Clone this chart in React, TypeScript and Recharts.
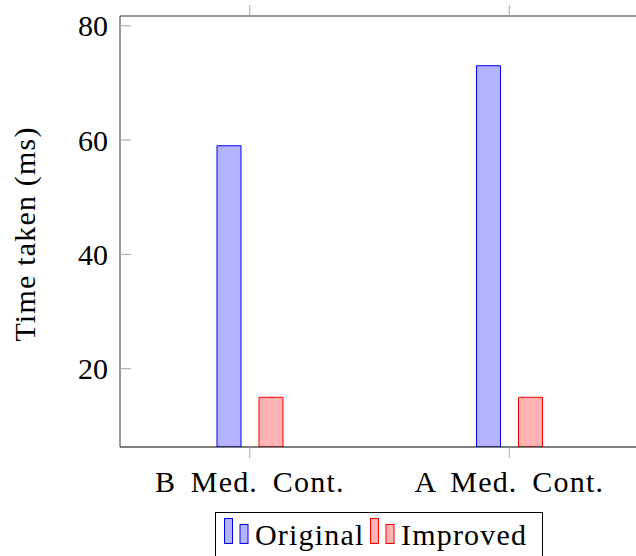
import React from "react";
import { BarChart, Bar, XAxis, YAxis, Label } from "recharts";

// Benchmark categories and measured times (ms)
const categories = ["B Med. Cont.", "A Med. Cont."];
const originalTimes = [59, 73];
const improvedTimes = [15, 15];
const yTicks = [20, 40, 60, 80];
const yDomain: [number, number] = [6.3, 81.7];

const series = [
  { key: "original", name: "Original", fill: "#b3b3ff", stroke: "#0000ff" },
  { key: "improved", name: "Improved", fill: "#ffb3b3", stroke: "#ff0000" },
];

const data = categories.map((name, i) => ({
  name,
  original: originalTimes[i],
  improved: improvedTimes[i],
}));

const FONT = "'Liberation Serif', 'DejaVu Serif', serif";
const TICK_GRAY = "#a6a6a6";

const LeftTick = (props: any) => {
  const { x, y, payload } = props;
  return (
    <g>
      <line x1={x} x2={x + 11} y1={y} y2={y} stroke={TICK_GRAY} strokeWidth={1} />
      <text x={x - 12} y={y} dy="0.35em" textAnchor="end" fontFamily={FONT} fontSize={30} fill="#000">
        {payload.value}
      </text>
    </g>
  );
};

const RightTick = (props: any) => {
  const { x, y } = props;
  return <line x1={x - 11} x2={x} y1={y} y2={y} stroke={TICK_GRAY} strokeWidth={1} />;
};

const BottomTick = (props: any) => {
  const { x, y, payload } = props;
  return (
    <g>
      <line x1={x} x2={x} y1={y} y2={y + 11} stroke={TICK_GRAY} strokeWidth={1} />
      <text
        x={x}
        y={y + 45}
        textAnchor="middle"
        fontFamily={FONT}
        fontSize={30}
        letterSpacing={1.2}
        wordSpacing={6}
        fill="#000"
      >
        {payload.value}
      </text>
    </g>
  );
};

const TopTick = (props: any) => {
  const { x, y } = props;
  return <line x1={x} x2={x} y1={y - 11} y2={y} stroke={TICK_GRAY} strokeWidth={1} />;
};

const YTitle = (props: any) => {
  const { viewBox } = props;
  const cy = viewBox.y + viewBox.height / 2 + 2.5;
  const cx = 35;
  return (
    <text
      x={cx}
      y={cy}
      textAnchor="middle"
      transform={`rotate(-90, ${cx}, ${cy})`}
      fontFamily={FONT}
      fontSize={30}
      letterSpacing={1.2}
      fill="#000"
    >
      Time taken (ms)
    </text>
  );
};

const LegendBox = () => {
  const entryX = [9, 155];
  return (
    <svg width={329} height={44} style={{ position: "absolute", left: 215, top: 512 }}>
      <rect x={0.5} y={0.5} width={327} height={60} fill="#fff" stroke="#000" strokeWidth={1} />
      {series.map((s, i) => (
        <g key={s.key} transform={`translate(${entryX[i]},0)`}>
          <rect x={0.5} y={6.5} width={8} height={25} fill={s.fill} stroke={s.stroke} strokeWidth={1} />
          <rect x={16} y={12.5} width={8} height={19} fill={s.fill} stroke={s.stroke} strokeWidth={1} />
          <text x={31} y={33} fontFamily={FONT} fontSize={30} letterSpacing={1.2} fill="#000">
            {s.name}
          </text>
        </g>
      ))}
    </svg>
  );
};

export default function App() {
  return (
    <div
      style={{
        position: "absolute",
        left: 0,
        top: 0,
        width: 636,
        height: 556,
        overflow: "hidden",
        background: "#fff",
      }}
    >
      <BarChart
        width={640}
        height={556}
        data={data}
        margin={{ top: 0, right: 1, bottom: 0, left: 0 }}
        barSize={24}
        barGap={18}
      >
        <XAxis
          dataKey="name"
          xAxisId="bottom"
          orientation="bottom"
          height={109}
          axisLine={{ stroke: "#000", strokeWidth: 1 }}
          tickLine={false}
          tickSize={0}
          tickMargin={0}
          tick={<BottomTick />}
          interval={0}
        />
        <XAxis
          dataKey="name"
          xAxisId="top"
          orientation="top"
          height={16}
          axisLine={{ stroke: "#333", strokeWidth: 1 }}
          tickLine={false}
          tickSize={0}
          tickMargin={0}
          tick={<TopTick />}
          interval={0}
        />
        <YAxis
          yAxisId="left"
          orientation="left"
          width={120}
          domain={yDomain}
          allowDataOverflow
          ticks={yTicks}
          axisLine={{ stroke: "#333", strokeWidth: 1 }}
          tickLine={false}
          tickSize={0}
          tickMargin={0}
          tick={<LeftTick />}
          interval={0}
        >
          <Label content={<YTitle />} />
        </YAxis>
        <YAxis
          yAxisId="right"
          orientation="right"
          width={0}
          domain={yDomain}
          allowDataOverflow
          ticks={yTicks}
          axisLine={{ stroke: "#000", strokeWidth: 1 }}
          tickLine={false}
          tickSize={0}
          tickMargin={0}
          tick={<RightTick />}
          interval={0}
        />
        {series.map((s) => (
          <Bar
            key={s.key}
            dataKey={s.key}
            name={s.name}
            xAxisId="bottom"
            yAxisId="left"
            fill={s.fill}
            stroke={s.stroke}
            strokeWidth={1}
            isAnimationActive={false}
          />
        ))}
      </BarChart>
      <LegendBox />
    </div>
  );
}
